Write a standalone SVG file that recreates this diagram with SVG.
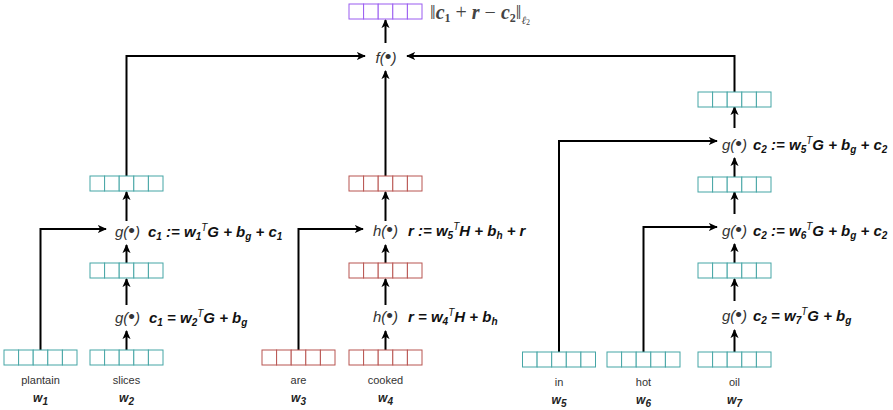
<svg xmlns="http://www.w3.org/2000/svg" xmlns:xlink="http://www.w3.org/1999/xlink" width="893" height="410" viewBox="0 0 893 410">
<style>
.teal{stroke:#45a5a5;}
.red{stroke:#b85450;}
.purp{stroke:#9a5cf0;}
.conn path{fill:none;stroke:#000;stroke-width:2;}
.arr{marker-end:url(#ah);}
.fn{font-family:"Liberation Sans",Arial,sans-serif;font-style:italic;font-size:15px;fill:#333;}
.bl{font-size:19px;font-style:normal;}
.eq{font-family:"Liberation Sans",Arial,sans-serif;font-style:italic;font-weight:bold;font-size:15px;fill:#111;}
.sub{font-size:10px;}
.sup{font-size:10px;font-weight:normal;}
.lbl{font-family:"Liberation Sans",Arial,sans-serif;font-size:11px;fill:#333;text-anchor:middle;}
.wl{font-family:"Liberation Sans",Arial,sans-serif;font-style:italic;font-weight:bold;font-size:12px;fill:#222;text-anchor:middle;}
.tex{font-family:"Liberation Serif","Times New Roman",serif;font-size:20px;fill:#444;}
.bm{font-weight:bold;font-style:italic;}
</style>
<defs>
<marker id="ah" viewBox="0 0 10 10" refX="9" refY="5" markerWidth="9" markerHeight="9" markerUnits="userSpaceOnUse" orient="auto">
<path d="M0,0.5 L10,5 L0,9.5 L2.5,5 z" fill="#000"/>
</marker>
<g id="vec5">
<rect x="0" y="0" width="14.6" height="15" fill="#ffffff" stroke-width="1"/>
<rect x="14.6" y="0" width="14.6" height="15" fill="#ffffff" stroke-width="1"/>
<rect x="29.2" y="0" width="14.6" height="15" fill="#ffffff" stroke-width="1"/>
<rect x="43.8" y="0" width="14.6" height="15" fill="#ffffff" stroke-width="1"/>
<rect x="58.4" y="0" width="14.6" height="15" fill="#ffffff" stroke-width="1"/>
</g>
</defs>
<rect width="893" height="410" fill="#ffffff"/>

<g id="connectors" class="conn">
<!-- left column -->
<path class="arr" d="M126.5,350 V331"/>
<path class="arr" d="M126.5,305 V279"/>
<path class="arr" d="M126.5,263 V245"/>
<path class="arr" d="M126.5,221 V192"/>
<path class="arr" d="M126.5,176 V56 H365"/>
<path class="arr" d="M40.5,350 V229 H106"/>
<!-- middle column -->
<path class="arr" d="M385.5,350 V331"/>
<path class="arr" d="M385.5,305 V279"/>
<path class="arr" d="M385.5,263 V245"/>
<path class="arr" d="M385.5,221 V192"/>
<path class="arr" d="M385.5,176 V71"/>
<path class="arr" d="M298.5,350 V229 H363"/>
<path class="arr" d="M385.5,43 V20"/>
<!-- right column -->
<path class="arr" d="M734.5,352 V330"/>
<path class="arr" d="M734.5,301 V279"/>
<path class="arr" d="M734.5,263 V244"/>
<path class="arr" d="M734.5,214 V192"/>
<path class="arr" d="M734.5,177 V158"/>
<path class="arr" d="M734.5,128 V107"/>
<path class="arr" d="M734.5,92 V56 H407"/>
<path class="arr" d="M559,352 V141 H717"/>
<path class="arr" d="M643.5,352 V227 H717"/>
</g>

<g id="output">
<use xlink:href="#vec5" href="#vec5" class="purp" x="349" y="4"/>
<text class="tex" x="430" y="19">‖<tspan class="bm">c</tspan><tspan font-size="12" font-weight="bold" dy="3">1</tspan><tspan dy="-3"> + </tspan><tspan class="bm">r</tspan><tspan> − </tspan><tspan class="bm">c</tspan><tspan font-size="12" font-weight="bold" dy="3">2</tspan><tspan dy="-3">‖</tspan><tspan font-size="11" font-style="italic" dy="5">ℓ</tspan><tspan font-size="8" dy="1">2</tspan></text>
</g>

<g id="f-node">
<text class="fn" x="386" y="63" text-anchor="middle">f(<tspan class="bl">•</tspan>)</text>
</g>

<!-- left column -->
<g id="w1-plantain">
<use xlink:href="#vec5" href="#vec5" class="teal" x="4" y="350"/>
<text class="lbl" x="40.5" y="384">plantain</text>
<text class="wl" x="40.5" y="402">w<tspan class="sub" dy="3">1</tspan></text>
</g>
<g id="w2-slices">
<use xlink:href="#vec5" href="#vec5" class="teal" x="90" y="350"/>
<text class="lbl" x="126.5" y="384">slices</text>
<text class="wl" x="126.5" y="402">w<tspan class="sub" dy="3">2</tspan></text>
</g>
<g id="g-left-1">
<text class="fn" x="115" y="323">g(<tspan class="bl">•</tspan>)</text>
<text class="eq" x="149" y="323">c<tspan class="sub" dy="3">1</tspan><tspan dy="-3"> = w</tspan><tspan class="sub" dy="3">2</tspan><tspan class="sup" dy="-9">T</tspan><tspan dy="6">G + b</tspan><tspan class="sub" dy="3">g</tspan></text>
</g>
<g id="vec-left-1">
<use xlink:href="#vec5" href="#vec5" class="teal" x="90" y="263"/>
</g>
<g id="g-left-2">
<text class="fn" x="115" y="237">g(<tspan class="bl">•</tspan>)</text>
<text class="eq" x="148" y="237">c<tspan class="sub" dy="3">1</tspan><tspan dy="-3"> := w</tspan><tspan class="sub" dy="3">1</tspan><tspan class="sup" dy="-9">T</tspan><tspan dy="6">G + b</tspan><tspan class="sub" dy="3">g</tspan><tspan dy="-3"> + c</tspan><tspan class="sub" dy="3">1</tspan></text>
</g>
<g id="vec-left-2">
<use xlink:href="#vec5" href="#vec5" class="teal" x="90" y="176"/>
</g>

<!-- middle column -->
<g id="w3-are">
<use xlink:href="#vec5" href="#vec5" class="red" x="262" y="350"/>
<text class="lbl" x="298.5" y="384">are</text>
<text class="wl" x="298.5" y="402">w<tspan class="sub" dy="3">3</tspan></text>
</g>
<g id="w4-cooked">
<use xlink:href="#vec5" href="#vec5" class="red" x="349" y="350"/>
<text class="lbl" x="385.5" y="384">cooked</text>
<text class="wl" x="385.5" y="402">w<tspan class="sub" dy="3">4</tspan></text>
</g>
<g id="h-mid-1">
<text class="fn" x="373" y="322">h(<tspan class="bl">•</tspan>)</text>
<text class="eq" x="408" y="322">r = w<tspan class="sub" dy="3">4</tspan><tspan class="sup" dy="-9">T</tspan><tspan dy="6">H + b</tspan><tspan class="sub" dy="3">h</tspan></text>
</g>
<g id="vec-mid-1">
<use xlink:href="#vec5" href="#vec5" class="red" x="349" y="263"/>
</g>
<g id="h-mid-2">
<text class="fn" x="373" y="236">h(<tspan class="bl">•</tspan>)</text>
<text class="eq" x="408" y="236">r := w<tspan class="sub" dy="3">5</tspan><tspan class="sup" dy="-9">T</tspan><tspan dy="6">H + b</tspan><tspan class="sub" dy="3">h</tspan><tspan dy="-3"> + r</tspan></text>
</g>
<g id="vec-mid-2">
<use xlink:href="#vec5" href="#vec5" class="red" x="349" y="176"/>
</g>

<!-- right column -->
<g id="w5-in">
<use xlink:href="#vec5" href="#vec5" class="teal" x="522.5" y="352"/>
<text class="lbl" x="559" y="386">in</text>
<text class="wl" x="559" y="404">w<tspan class="sub" dy="3">5</tspan></text>
</g>
<g id="w6-hot">
<use xlink:href="#vec5" href="#vec5" class="teal" x="607" y="352"/>
<text class="lbl" x="643.5" y="386">hot</text>
<text class="wl" x="643.5" y="404">w<tspan class="sub" dy="3">6</tspan></text>
</g>
<g id="w7-oil">
<use xlink:href="#vec5" href="#vec5" class="teal" x="698" y="352"/>
<text class="lbl" x="734.5" y="386">oil</text>
<text class="wl" x="734.5" y="404">w<tspan class="sub" dy="3">7</tspan></text>
</g>
<g id="g-right-1">
<text class="fn" x="722" y="321">g(<tspan class="bl">•</tspan>)</text>
<text class="eq" x="753" y="321">c<tspan class="sub" dy="3">2</tspan><tspan dy="-3"> = w</tspan><tspan class="sub" dy="3">7</tspan><tspan class="sup" dy="-9">T</tspan><tspan dy="6">G + b</tspan><tspan class="sub" dy="3">g</tspan></text>
</g>
<g id="vec-right-1">
<use xlink:href="#vec5" href="#vec5" class="teal" x="698" y="263"/>
</g>
<g id="g-right-2">
<text class="fn" x="722" y="236">g(<tspan class="bl">•</tspan>)</text>
<text class="eq" x="753" y="236">c<tspan class="sub" dy="3">2</tspan><tspan dy="-3"> := w</tspan><tspan class="sub" dy="3">6</tspan><tspan class="sup" dy="-9">T</tspan><tspan dy="6">G + b</tspan><tspan class="sub" dy="3">g</tspan><tspan dy="-3"> + c</tspan><tspan class="sub" dy="3">2</tspan></text>
</g>
<g id="vec-right-2">
<use xlink:href="#vec5" href="#vec5" class="teal" x="698" y="177"/>
</g>
<g id="g-right-3">
<text class="fn" x="722" y="150">g(<tspan class="bl">•</tspan>)</text>
<text class="eq" x="753" y="150">c<tspan class="sub" dy="3">2</tspan><tspan dy="-3"> := w</tspan><tspan class="sub" dy="3">5</tspan><tspan class="sup" dy="-9">T</tspan><tspan dy="6">G + b</tspan><tspan class="sub" dy="3">g</tspan><tspan dy="-3"> + c</tspan><tspan class="sub" dy="3">2</tspan></text>
</g>
<g id="vec-right-3">
<use xlink:href="#vec5" href="#vec5" class="teal" x="698" y="92"/>
</g>
</svg>
